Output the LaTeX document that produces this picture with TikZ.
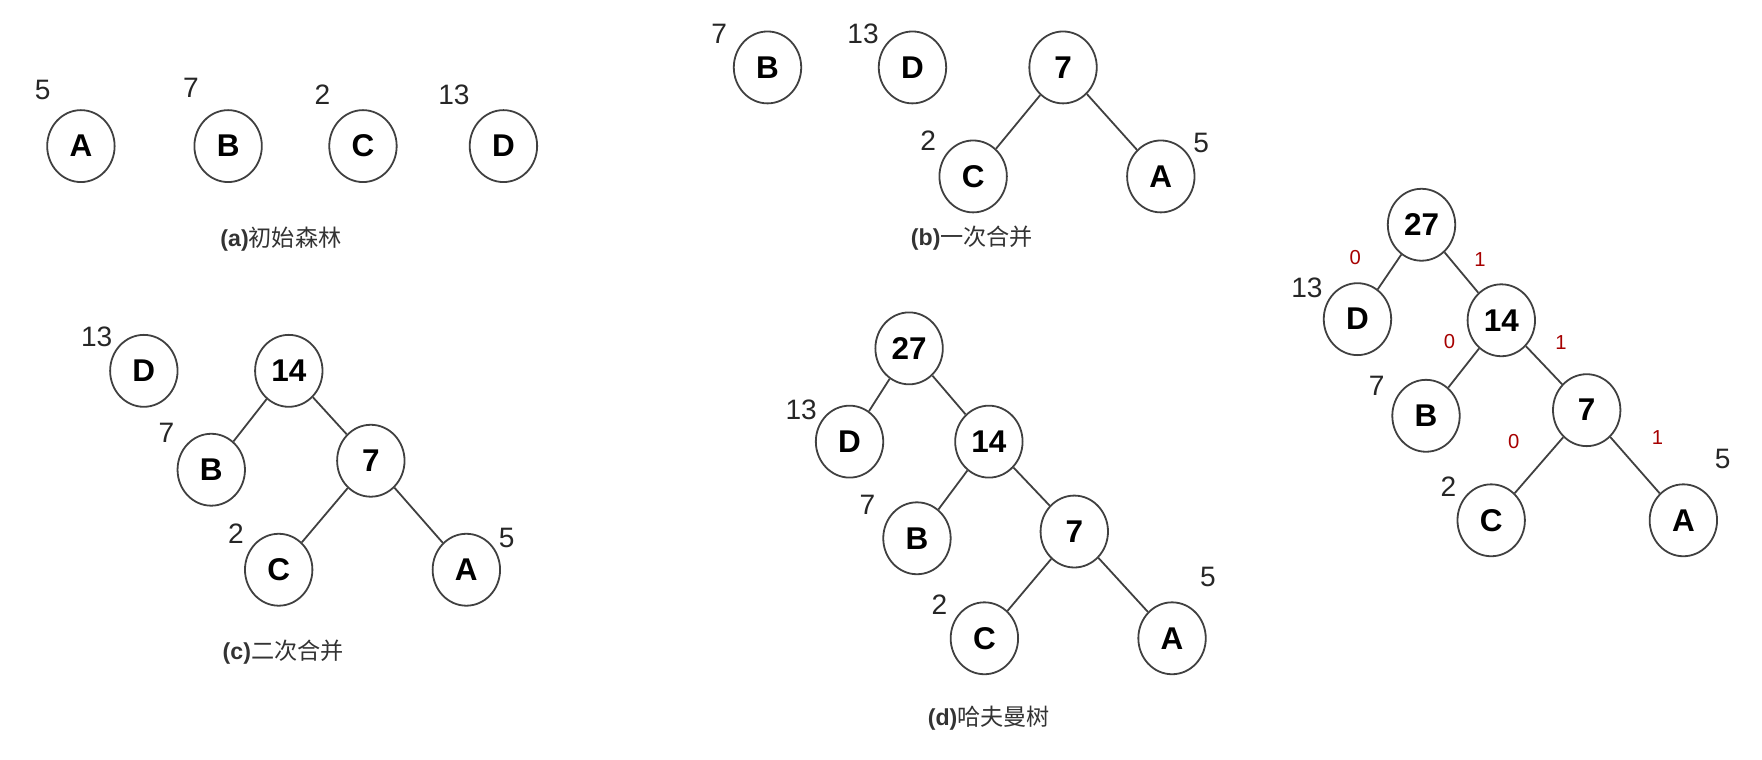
\documentclass[tikz,border=0pt]{standalone}
\usepackage{fontspec}
\setmainfont{Liberation Sans}
\newfontfamily\cjk{Noto Sans CJK SC}
\usetikzlibrary{shapes.geometric}

\begin{document}
\begin{tikzpicture}[x=0.5pt,y=-0.5pt,
	jd/.style={draw=black!75,line width=0.8pt,ellipse,minimum width=30pt,minimum height=32pt,inner sep=0pt,font=\bfseries\fontsize{14}{14}\selectfont},
	qz/.style={font=\fontsize{12.5}{12.5}\selectfont,text=black!85},
	bm/.style={font=\fontsize{9}{9}\selectfont,text=red!65!black},
	bt/.style={font=\fontsize{10.3}{10.3}\selectfont,text=black!80},
	bian/.style={draw=black!75,line width=0.8pt}]
	\useasboundingbox (0,0) rectangle (1568,676);
	% (a) 初始森林
	\node[jd] (aA) at (72,130) {A};
	\node[jd] (aB) at (203,130) {B};
	\node[jd] (aC) at (323,130) {C};
	\node[jd] (aD) at (448,130) {D};
	\node[qz] (waA) at (38,80) {5};
	\node[qz] (waB) at (170,78) {7};
	\node[qz] (waC) at (287,84) {2};
	\node[qz] (waD) at (404,84) {13};
	\node[bt] (ta) at (250,213) {\textbf{(a)}{\cjk 初始森林}};
	% (b) 一次合并
	\node[jd] (bB) at (683,60) {B};
	\node[jd] (bD) at (812,60) {D};
	\node[jd] (b7) at (946,60) {7};
	\node[jd] (bC) at (866,157) {C};
	\node[jd] (bA) at (1033,157) {A};
	\draw[bian] (b7) -- (bC);
	\draw[bian] (b7) -- (bA);
	\node[qz] (wbB) at (640,30) {7};
	\node[qz] (wbD) at (768,30) {13};
	\node[qz] (wbC) at (826,125) {2};
	\node[qz] (wbA) at (1069,127) {5};
	\node[bt] (tb) at (865,212) {\textbf{(b)}{\cjk 一次合并}};
	% (c) 二次合并
	\node[jd] (cD) at (128,330) {D};
	\node[jd] (c14) at (257,330) {14};
	\node[jd] (cB) at (188,418) {B};
	\node[jd] (c7) at (330,410) {7};
	\node[jd] (cC) at (248,507) {C};
	\node[jd] (cA) at (415,507) {A};
	\draw[bian] (c14) -- (cB);
	\draw[bian] (c14) -- (c7);
	\draw[bian] (c7) -- (cC);
	\draw[bian] (c7) -- (cA);
	\node[qz] (wcD) at (86,300) {13};
	\node[qz] (wcB) at (148,385) {7};
	\node[qz] (wcC) at (210,475) {2};
	\node[qz] (wcA) at (451,479) {5};
	\node[bt] (tc) at (252,580) {\textbf{(c)}{\cjk 二次合并}};
	% (d) 哈夫曼树
	\node[jd] (d27) at (809,310) {27};
	\node[jd] (dD) at (756,393) {D};
	\node[jd] (d14) at (880,393) {14};
	\node[jd] (dB) at (816,479) {B};
	\node[jd] (d7) at (956,473) {7};
	\node[jd] (dC) at (876,568) {C};
	\node[jd] (dA) at (1043,568) {A};
	\draw[bian] (d27) -- (dD);
	\draw[bian] (d27) -- (d14);
	\draw[bian] (d14) -- (dB);
	\draw[bian] (d14) -- (d7);
	\draw[bian] (d7) -- (dC);
	\draw[bian] (d7) -- (dA);
	\node[qz] (wdD) at (713,365) {13};
	\node[qz] (wdB) at (772,449) {7};
	\node[qz] (wdC) at (836,538) {2};
	\node[qz] (wdA) at (1075,513) {5};
	\node[bt] (td) at (880,639) {\textbf{(d)}{\cjk 哈夫曼树}};
	% 编码
	\node[jd] (e27) at (1265,200) {27};
	\node[jd] (eD) at (1208,284) {D};
	\node[jd] (e14) at (1336,285) {14};
	\node[jd] (eB) at (1269,370) {B};
	\node[jd] (e7) at (1412,365) {7};
	\node[jd] (eC) at (1327,463) {C};
	\node[jd] (eA) at (1498,463) {A};
	\draw[bian] (e27) -- (eD);
	\draw[bian] (e27) -- (e14);
	\draw[bian] (e14) -- (eB);
	\draw[bian] (e14) -- (e7);
	\draw[bian] (e7) -- (eC);
	\draw[bian] (e7) -- (eA);
	\node[qz] (weD) at (1163,256) {13};
	\node[qz] (weB) at (1225,343) {7};
	\node[qz] (weC) at (1289,433) {2};
	\node[qz] (weA) at (1533,408) {5};
	\node[bm] (m1) at (1206,229) {0};
	\node[bm] (m2) at (1317,231) {1};
	\node[bm] (m3) at (1290,304) {0};
	\node[bm] (m4) at (1389,305) {1};
	\node[bm] (m5) at (1347,393) {0};
	\node[bm] (m6) at (1475,389) {1};
\end{tikzpicture}
\end{document}
